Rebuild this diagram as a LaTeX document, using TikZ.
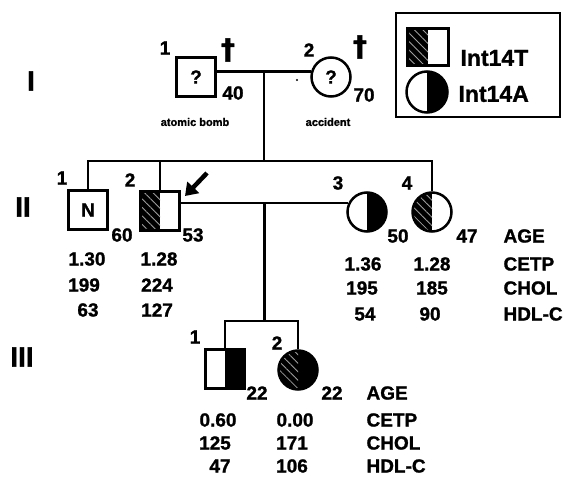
\documentclass[tikz,border=0pt]{standalone}
\usepackage{fontspec}
\setmainfont{Liberation Sans}[BoldFeatures={FakeBold=1.2}]
\newfontfamily\dagfont{DejaVu Sans}[BoldFeatures={FakeBold=1.5}]
\usepackage{tikz}
\usetikzlibrary{arrows.meta,patterns.meta,calc}
\tikzstyle{male}=[rectangle,draw,line width=2.5pt,minimum size=39pt,inner sep=0pt,font=\fontsize{19}{21}\selectfont\bfseries]
\tikzstyle{female}=[circle,draw,line width=2.5pt,minimum size=39pt,inner sep=0pt]
\tikzstyle{plain}=[]
\tikzstyle{hatch}=[pattern={Lines[angle=-45,distance=6pt,line width=0.8pt]},pattern color=gray!75]
\tikzstyle{lefthatch}=[path picture={
    \fill[black] (path picture bounding box.south west) rectangle (path picture bounding box.north);
    \fill[hatch] (path picture bounding box.south west) rectangle (path picture bounding box.north);}]
\tikzstyle{rightblack}=[path picture={
    \fill[black] (path picture bounding box.south) rectangle (path picture bounding box.north east);}]
\tikzstyle{bothhalves}=[path picture={
    \fill[black] (path picture bounding box.south west) rectangle (path picture bounding box.north east);
    \fill[hatch] (path picture bounding box.south west) rectangle (path picture bounding box.north);}]
\tikzstyle{edge}=[draw,line width=2.5pt]
\tikzstyle{num}=[font=\fontsize{19}{21}\selectfont\bfseries]
\tikzstyle{gen}=[font=\fontsize{28}{30}\selectfont\bfseries]
\tikzstyle{cause}=[font=\fontsize{11}{12}\selectfont\bfseries]
\tikzstyle{legendtext}=[font=\fontsize{23}{25}\selectfont\bfseries,anchor=west]

\begin{document}
\begin{tikzpicture}[x=1pt,y=-1pt]
    \useasboundingbox (0,0) rectangle (564,481);

    % generations
    \foreach \x/\y/\name in {31/81/I, 23/207/II, 22/357/III}
        \node[gen] (gen\name) at (\x,\y) {\name};

    % individuals
    \foreach \x/\y/\name/\kind/\txt in {196/77/I1/plain/?, 88/210/II1/plain/N, 160/211/II2/lefthatch/{}, 225/369/III1/rightblack/{}}
        \node[male,\kind] (\name) at (\x,\y) {\txt};
    \node[female,font=\fontsize{19}{21}\selectfont\bfseries] (I2) at (331,77) {?};
    \foreach \x/\y/\name/\kind in {367/212/II3/rightblack, 432/212/II4/lefthatch, 298/370/III2/bothhalves}
        \node[female,\kind] (\name) at (\x,\y) {};

    % marriages and descent
    \path[edge] (I1.east |- I2.165) -- (I2.165);
    \coordinate (m1) at ($(I1.east |- I2.165)!0.5!(I2.165)$);
    \coordinate (sib2) at (264,161);
    \path[edge] (m1) -- (m1 |- sib2);
    \path[edge] (II1.north) |- (II4.north |- sib2) -- (II4.north);
    \path[edge] (II2.north) -- (II2.north |- sib2);

    \path[edge] (II2.east |- II3.155) -- (II3.155);
    \coordinate (m2) at ($(II2.east |- II3.155)!0.5!(II3.155)$);
    \coordinate (sib3) at (264,321);
    \path[edge] (m2) -- (m2 |- sib3);
    \path[edge] (III1.north) |- (III2.north |- sib3) -- (III2.north);

    % proband
    \coordinate (probtail) at (207,173);
    \coordinate (probtip) at (185,196);
    \draw[line width=4.5pt,-{Triangle[length=12pt,width=16pt]}] (probtail) -- (probtip);

    % numbers, ages, deaths
    \foreach \x/\y/\val in {165/48/1, 309/50/2, 62/178/1, 130/180/2, 338/183/3, 407/183/4, 195/337/1, 277/343/2}
        \node[num] at (\x,\y) {\val};
    \foreach \x/\y/\val in {233/93/40, 364/95/70, 122/235/60, 193/235/53, 398/236/50, 467/236/47, 257/393/22, 332/393/22}
        \node[num] at (\x,\y) {\val};
    \foreach \x/\y in {228/50, 360/47}
        \node[font=\dagfont\fontsize{28}{30}\selectfont\bfseries] at (\x,\y) {†};
    \fill (297,80) circle (1.2pt);
    \node[cause] (bomb) at (195,122) {atomic bomb};
    \node[cause] (acc) at (328,122) {accident};

    % values generation II
    \foreach \x/\y/\val in {87/259/1.30, 84/285/199, 88/310/63, 159/259/1.28, 157/285/224, 157/310/127,
                            363/264/1.36, 362/288/195, 365/314/54, 432/264/1.28, 432/288/185, 430/314/90}
        \node[num] at (\x,\y) {\val};
    \foreach \y/\val in {236/AGE, 264/CETP, 288/CHOL, 314/HDL-C}
        \node[num,anchor=west] at (500,\y) {\val};

    % values generation III
    \foreach \x/\y/\val in {218/420/0.60, 215/443/125, 220/466/47, 295/420/0.00, 292/443/171, 292/466/106}
        \node[num] at (\x,\y) {\val};
    \foreach \y/\val in {393/AGE, 420/CETP, 443/CHOL, 466/HDL-C}
        \node[num,anchor=west] at (363,\y) {\val};

    % legend
    \node[draw,line width=2.5pt,minimum width=164pt,minimum height=104pt] (legendbox) at (478,65) {};
    \node[male,lefthatch,minimum width=41pt,minimum height=37pt] (legT) at (428,47) {};
    \node[female,rightblack,minimum size=41pt] (legA) at (427,92) {};
    \node[legendtext] at (457,58) {Int14T};
    \node[legendtext] at (455,94) {Int14A};

\end{tikzpicture}
\end{document}
